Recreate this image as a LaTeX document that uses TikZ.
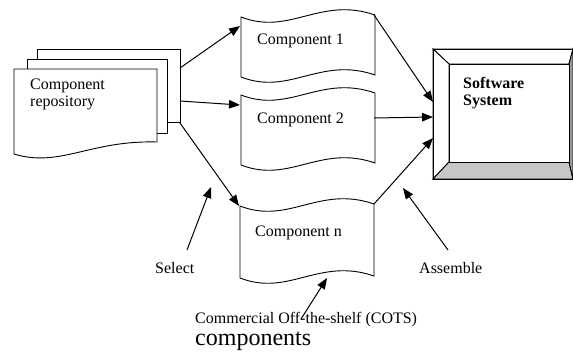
\documentclass[tikz,border=0pt]{standalone}
\usepackage{fontspec}
\setmainfont{Liberation Serif}
\usetikzlibrary{arrows.meta,calc}
\tikzset{
  sheet/.style={draw=black, fill=white, line width=0.9pt, inner sep=0pt},
  conn/.style={draw=black, line width=1pt, -{Triangle[length=11pt,width=8.5pt]}},
  lbl/.style={inner sep=0pt, anchor=base west, font=\fontsize{16}{18}\selectfont},
  bold/.style={lbl, font=\fontsize{16}{18}\selectfont\bfseries},
  holder/.style={inner sep=0pt, outer sep=0pt, anchor=north west}
}
\newcommand\tapeshape[4]{%
  \node[holder, minimum width=134pt, minimum height=#4pt] (#1) at (#2,#3) {};
  \begin{scope}[shift={(#2,#3)}]
    \draw[sheet] (0,0) .. controls (49,19) and (79,-21) .. (134,-2)
      -- (134,#4-2) .. controls (79,#4-21) and (49,#4+19) .. (0,#4) -- cycle;
  \end{scope}}
\begin{document}
\begin{tikzpicture}[x=1pt,y=-1pt]
\useasboundingbox (0,0) rectangle (573,351);
\fill[white] (0,0) rectangle (573,351);

% repository (stack of sheets)
\node[sheet, holder, minimum width=143pt, minimum height=73pt] (rb) at (37,49) {};
\node[sheet, holder, minimum width=140pt, minimum height=74pt] (rm) at (27,59) {};
\node[holder, minimum width=143pt, minimum height=85pt] (rf) at (14,69) {};
\draw[sheet] (14,69) -- (157,69) -- (157,142)
  .. controls (90,140) and (60,168) .. (14,154) -- cycle;
\node[lbl] (rt1) at (30,89) {Component};
\node[lbl] (rt2) at (30,106) {repository};

% components
\tapeshape{c1}{241}{17}{60}
\tapeshape{c2}{241}{95}{70}
\tapeshape{cn}{240}{206}{72}
\node[lbl] (c1t) at (257,44) {Component 1};
\node[lbl] (c2t) at (257,123) {Component 2};
\node[lbl] (cnt) at (255,236) {Component n};

% software system (bevelled box)
\node[holder, minimum width=140pt, minimum height=130pt] (ss) at (433,49) {};
\coordinate (o1) at (433,49); \coordinate (o2) at (573,49);
\coordinate (o3) at (573,179); \coordinate (o4) at (433,179);
\coordinate (i1) at (449,64); \coordinate (i2) at (569,64);
\coordinate (i3) at (569,162); \coordinate (i4) at (449,162);
\draw[line width=0.9pt, fill=white] (o1) -- (o2) -- (i2) -- (i1) -- cycle;
\draw[line width=0.9pt, fill=white] (o1) -- (i1) -- (i4) -- (o4) -- cycle;
\draw[line width=0.9pt, fill=black!22] (o4) -- (i4) -- (i3) -- (o3) -- cycle;
\draw[line width=0.9pt, fill=black!40] (i2) -- (o2) -- (o3) -- (i3) -- cycle;
\draw[line width=0.9pt, fill=white] (i1) rectangle (i3);
\draw[line width=0.9pt] (o1) rectangle (o3);
\node[bold] (ss1) at (463,88) {Software};
\node[bold] (ss2) at (463,105) {System};

% labels
\node[lbl] (sel) at (155,273) {Select};
\node[lbl] (asm) at (419,273) {Assemble};
\node[lbl] (cots1) at (195,323) {Commercial Off-the-shelf (COTS)};
\node[inner sep=0pt, anchor=base west, font=\fontsize{24}{26}\selectfont] (cots2) at (195,345) {components};

% connector end points
\coordinate (r1) at (180,68);
\coordinate (r2) at (180,101);
\coordinate (r3) at (180,123);
\coordinate (c1in) at (240,26);
\coordinate (c2in) at (240,105);
\coordinate (cnin) at (239,206);
\coordinate (c1out) at (374,15);
\coordinate (c2out) at (374,118);
\coordinate (cnout) at (374,204);
\coordinate (s1) at (433,102);
\coordinate (s2) at (433,117);
\coordinate (s3) at (433,138);
\coordinate (selt) at (187,250);
\coordinate (selh) at (211,187);
\coordinate (asmt) at (448,250);
\coordinate (asmh) at (403,188);
\coordinate (cott) at (301,319);
\coordinate (coth) at (327,278);

\draw[conn] (r1) -- (c1in);
\draw[conn] (r2) -- (c2in);
\draw[conn] (r3) -- (cnin);
\draw[conn] (c1out) -- (s1);
\draw[conn] (c2out) -- (s2);
\draw[conn] (cnout) -- (s3);
\draw[conn] (selt) -- (selh);
\draw[conn] (asmt) -- (asmh);
\draw[conn] (cott) -- (coth);
\end{tikzpicture}
\end{document}
